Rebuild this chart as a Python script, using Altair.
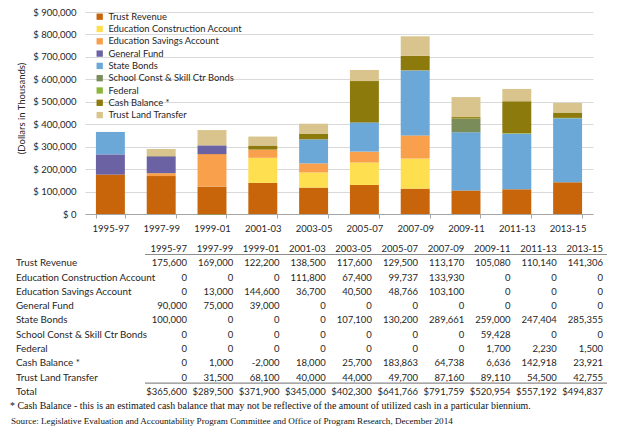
import altair as alt
import pandas as pd

periods = ["1995-97", "1997-99", "1999-01", "2001-03", "2003-05",
           "2005-07", "2007-09", "2009-11", "2011-13", "2013-15"]
series = ["Trust Revenue", "Education Construction Account", "Education Savings Account",
          "General Fund", "State Bonds", "School Const & Skill Ctr Bonds", "Federal",
          "Cash Balance *", "Trust Land Transfer"]
colors = ["#C8650B", "#FDDF4F", "#F8A04C", "#6B62A4", "#6BA8D7",
          "#7B8C5B", "#8EB53B", "#8C7B0C", "#D8C48C"]

trust_revenue = [175600, 169000, 122200, 138500, 117600, 129500, 113170, 105080, 110140, 141306]
edu_construction = [0, 0, 0, 111800, 67400, 99737, 133930, 0, 0, 0]
edu_savings = [0, 13000, 144600, 36700, 40500, 48766, 103100, 0, 0, 0]
general_fund = [90000, 75000, 39000, 0, 0, 0, 0, 0, 0, 0]
state_bonds = [100000, 0, 0, 0, 107100, 130200, 289661, 259000, 247404, 285355]
school_const = [0, 0, 0, 0, 0, 0, 0, 59428, 0, 0]
federal = [0, 0, 0, 0, 0, 0, 0, 1700, 2230, 1500]
cash_balance = [0, 1000, -2000, 18000, 25700, 183863, 64738, 6636, 142918, 23921]
trust_land = [0, 31500, 68100, 40000, 44000, 49700, 87160, 89110, 54500, 42755]

footnote = "* Cash Balance - this is an estimated cash balance that may not be reflective of the amount of utilized cash in a particular biennium."
source = "Source: Legislative Evaluation and Accountability Program Committee and Office of Program Research, December 2014"
y_ticks = [0, 100000, 200000, 300000, 400000, 500000, 600000, 700000, 800000, 900000]

values = [trust_revenue, edu_construction, edu_savings, general_fund, state_bonds,
          school_const, federal, cash_balance, trust_land]

# ---- bar data
bar_rows = []
for i, (s, vals) in enumerate(zip(series, values)):
    for p, v in zip(periods, vals):
        bar_rows.append({"period": p, "series": s, "value": v, "order": i})
bar_df = pd.DataFrame(bar_rows)

# ---- table data
row_domain = ["hdr"] + series + ["Total", "fn1", "fn2"]
cell_rows = []
for p in periods:
    cell_rows.append({"row": "hdr", "period": p, "text": p})
for s, vals in zip(series, values):
    for p, v in zip(periods, vals):
        cell_rows.append({"row": s, "period": p, "text": f"{v:,}"})
totals = [sum(col) for col in zip(*values)]
for p, t in zip(periods, totals):
    cell_rows.append({"row": "Total", "period": p, "text": f"${t:,}"})
cell_df = pd.DataFrame(cell_rows)
label_df = pd.DataFrame({"row": series + ["Total"], "label": series + ["Total"]})
fn_df = pd.DataFrame({"row": ["fn1"], "text": [footnote]})
src_df = pd.DataFrame({"row": ["fn2"], "text": [source]})
rule_df = pd.DataFrame({"row": ["hdr", "Trust Land Transfer"]})

W, H = 508, 410
BAR_H = 202
FONT = "Lato"
TXT = "#262626"

bars = alt.Chart(bar_df).mark_bar().encode(
    x=alt.X("period:N", sort=periods,
            scale=alt.Scale(paddingInner=0.43, paddingOuter=0.215),
            axis=alt.Axis(title=None, offset=-(H - BAR_H), tickBand="extent",
                          domainColor="#a6a6a6", tickColor="#a6a6a6", tickSize=4,
                          labelAngle=0, labelPadding=5, labelFontSize=9.5,
                          labelFont=FONT, labelColor=TXT, grid=False)),
    y=alt.Y("value:Q", stack="zero",
            scale=alt.Scale(domain=[0, 900000], range=[BAR_H, 0], nice=False),
            axis=alt.Axis(values=y_ticks, labelExpr="'$ ' + format(datum.value, ',')",
                          domain=False, ticks=False, grid=True, gridColor="#d9d9d9",
                          labelPadding=9, labelFontSize=9.5, labelFont=FONT,
                          labelColor=TXT, title="(Dollars in Thousands)",
                          titleFont=FONT, titleFontSize=9.5, titleFontWeight="normal",
                          titleColor=TXT, titlePadding=6, titleY=96)),
    color=alt.Color("series:N", scale=alt.Scale(domain=series, range=colors),
                    legend=alt.Legend(orient="none", legendX=10, legendY=0, title=None,
                                      symbolType="square", symbolSize=40,
                                      symbolStrokeWidth=0, labelFont=FONT,
                                      labelFontSize=9.4, labelColor=TXT, rowPadding=1.3)),
    order=alt.Order("order:Q"),
)

tx = alt.X("period:N", sort=periods,
           scale=alt.Scale(type="point", domain=periods, range=[102, 518], padding=0),
           axis=None)
ty = alt.Y("row:N", scale=alt.Scale(type="point", domain=row_domain,
                                    range=[237, 408.5], padding=0), axis=None)

cells = alt.Chart(cell_df).mark_text(align="right", baseline="middle", font=FONT,
                                     fontSize=9.5, color=TXT).encode(
    x=tx, y=ty, text="text:N")
labels = alt.Chart(label_df).mark_text(align="left", baseline="middle", font=FONT,
                                       fontSize=9.8, color=TXT).encode(
    x=alt.value(-69), y=ty, text="label:N")
fn = alt.Chart(fn_df).mark_text(align="left", baseline="middle",
                                font="Liberation Serif", fontSize=9.9,
                                color="#111").encode(
    x=alt.value(-75), y=ty, text="text:N")
src = alt.Chart(src_df).mark_text(align="left", baseline="middle",
                                  font="Liberation Serif", fontSize=9.1,
                                  color="#111").encode(
    x=alt.value(-74), y=ty, text="text:N")
rules = alt.Chart(rule_df).mark_rule(color="#8c8c8c", strokeWidth=1.2, yOffset=5.5).encode(
    x=alt.value(60), x2=alt.value(522), y=ty)

table = alt.layer(cells, labels, fn, src, rules)

chart = alt.layer(bars, table).resolve_scale(
    x="independent", y="independent"
).properties(
    width=W, height=H,
    autosize=alt.AutoSizeParams(type="none"),
    padding={"left": 77, "top": 4, "right": 23, "bottom": 5},
).configure_view(stroke=None)

chart.save("out.html", embed_options={"renderer": "svg", "actions": False})
